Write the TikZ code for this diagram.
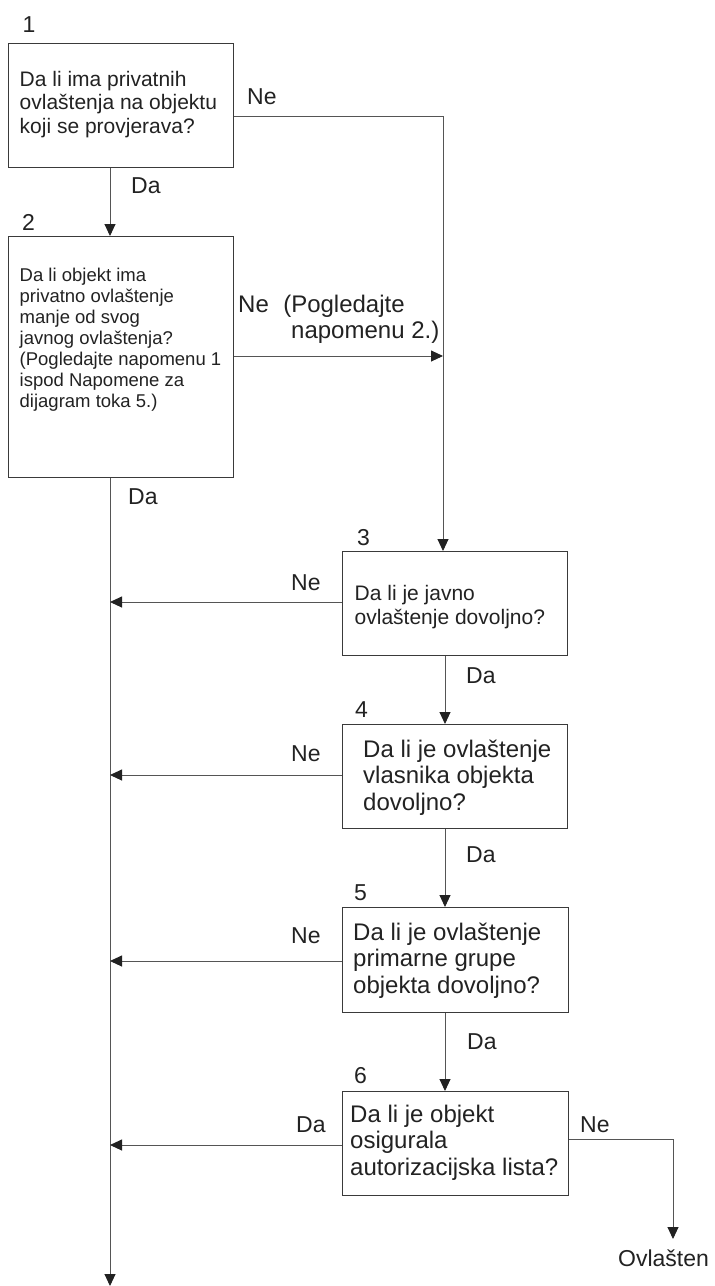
\documentclass[tikz,border=0pt]{standalone}
\usepackage{fontspec}
\setmainfont{Liberation Sans}
\usetikzlibrary{arrows.meta}
\definecolor{ink}{HTML}{222222}
\definecolor{wire}{HTML}{555555}
\definecolor{edge}{HTML}{3A3A3A}
\newcommand{\mylines}[3]{\fontsize{#1}{#2}\selectfont\begin{tabular}[t]{@{}l@{}}#3\end{tabular}}
\begin{document}
\begin{tikzpicture}[x=1pt,y=-1pt,
  box/.style={draw=edge,line width=1.1pt,inner sep=0pt,anchor=north west},
  qtext/.style={anchor=base west,inner sep=0pt,text=ink},
  lbl/.style={anchor=base west,inner sep=0pt,text=ink,font=\fontsize{23}{26}\selectfont},
  num/.style={anchor=base west,inner sep=0pt,text=ink,font=\fontsize{23}{26}\selectfont},
  wireline/.style={draw=wire,line width=0.9pt},
  arr/.style={wireline,-{Triangle[length=12pt,width=11pt,color=ink,fill=ink]}}]
\useasboundingbox (0,0) rectangle (715,1286);
% boxes
\node[box,minimum width=225pt,minimum height=124pt] (b1) at (8,43) {};
\node[box,minimum width=225pt,minimum height=241pt] (b2) at (8,236) {};
\node[box,minimum width=225pt,minimum height=104pt] (b3) at (342,551) {};
\node[box,minimum width=225pt,minimum height=104pt] (b4) at (342,724) {};
\node[box,minimum width=226pt,minimum height=105pt] (b5) at (342,907) {};
\node[box,minimum width=226pt,minimum height=104pt] (b6) at (342,1091) {};
% box texts
\node[qtext] (t1) at (19.5,86) {\mylines{21}{23.8}{Da li ima privatnih\\ ovlaštenja na objektu\\ koji se provjerava?}};
\node[qtext] (t2) at (19.5,281) {\mylines{18.5}{21}{Da li objekt ima\\ privatno ovlaštenje\\ manje od svog\\ javnog ovlaštenja?\\ (Pogledajte napomenu 1\\ ispod Napomene za\\ dijagram toka 5.)}};
\node[qtext] (t3) at (354.5,600) {\mylines{21}{24}{Da li je javno\\ ovlaštenje dovoljno?}};
\node[qtext] (t4) at (363,757) {\mylines{24}{26.5}{Da li je ovlaštenje\\ vlasnika objekta\\ dovoljno?}};
\node[qtext] (t5) at (353,940) {\mylines{24}{26.5}{Da li je ovlaštenje\\ primarne grupe\\ objekta dovoljno?}};
\node[qtext] (t6) at (350,1122) {\mylines{24}{26.5}{Da li je objekt\\ osigurala\\ autorizacijska lista?}};
% step numbers
\node[num] (n1) at (22.5,32) {1};
\node[num] (n2) at (22,230) {2};
\node[num] (n3) at (357,545) {3};
\node[num] (n4) at (355,717) {4};
\node[num] (n5) at (354,900) {5};
\node[num] (n6) at (354,1083) {6};
% helper coordinates
\coordinate (left) at (110,0);
\coordinate (mid) at (445,0);
\coordinate (c1) at (443,116);
\coordinate (c2) at (443,356);
\coordinate (l3) at (110,602);
\coordinate (l4) at (110,775);
\coordinate (l5) at (110,961);
\coordinate (l6) at (110,1145);
\coordinate (c6) at (673,1139);
\coordinate (c7) at (673,1239);
\coordinate (lend) at (110,1286);
% connectors
\draw[wireline] (b1.east |- c1) -- (c1);
\draw[arr] (c1) -- (c1 |- b3.north);
\draw[arr] (b2.east |- c2) -- (c2);
\draw[arr] (b1.south -| left) -- (b2.north -| left);
\draw[arr] (b2.south -| left) -- (lend);
\draw[arr] (b3.west |- l3) -- (l3);
\draw[arr] (b4.west |- l4) -- (l4);
\draw[arr] (b5.west |- l5) -- (l5);
\draw[arr] (b6.west |- l6) -- (l6);
\draw[arr] (b3.south -| mid) -- (b4.north -| mid);
\draw[arr] (b4.south -| mid) -- (b5.north -| mid);
\draw[arr] (b5.south -| mid) -- (b6.north -| mid);
\node[lbl] (ov) at (618,1266) {Ovlašten};
\draw[wireline] (b6.east |- c6) -- (c6);
\draw[arr] (c6) -- (c7);
% labels
\node[lbl] (ne1) at (247,104) {Ne};
\node[lbl] (da1) at (131,193) {Da};
\node[lbl,font=\fontsize{24}{26}\selectfont] (ne2a) at (238,312) {Ne\hspace{0.6em}(Pogledajte};
\node[lbl,font=\fontsize{24}{26}\selectfont] (ne2b) at (291,338) {napomenu 2.)};
\node[lbl] (da2) at (128,504) {Da};
\node[lbl] (ne3) at (291,590) {Ne};
\node[lbl] (da3) at (466,683) {Da};
\node[lbl] (ne4) at (291,761) {Ne};
\node[lbl] (da4) at (466,862) {Da};
\node[lbl] (ne5) at (291,943) {Ne};
\node[lbl] (da5) at (467,1049) {Da};
\node[lbl] (da6) at (296,1132) {Da};
\node[lbl] (ne6) at (580,1132) {Ne};
\end{tikzpicture}
\end{document}
